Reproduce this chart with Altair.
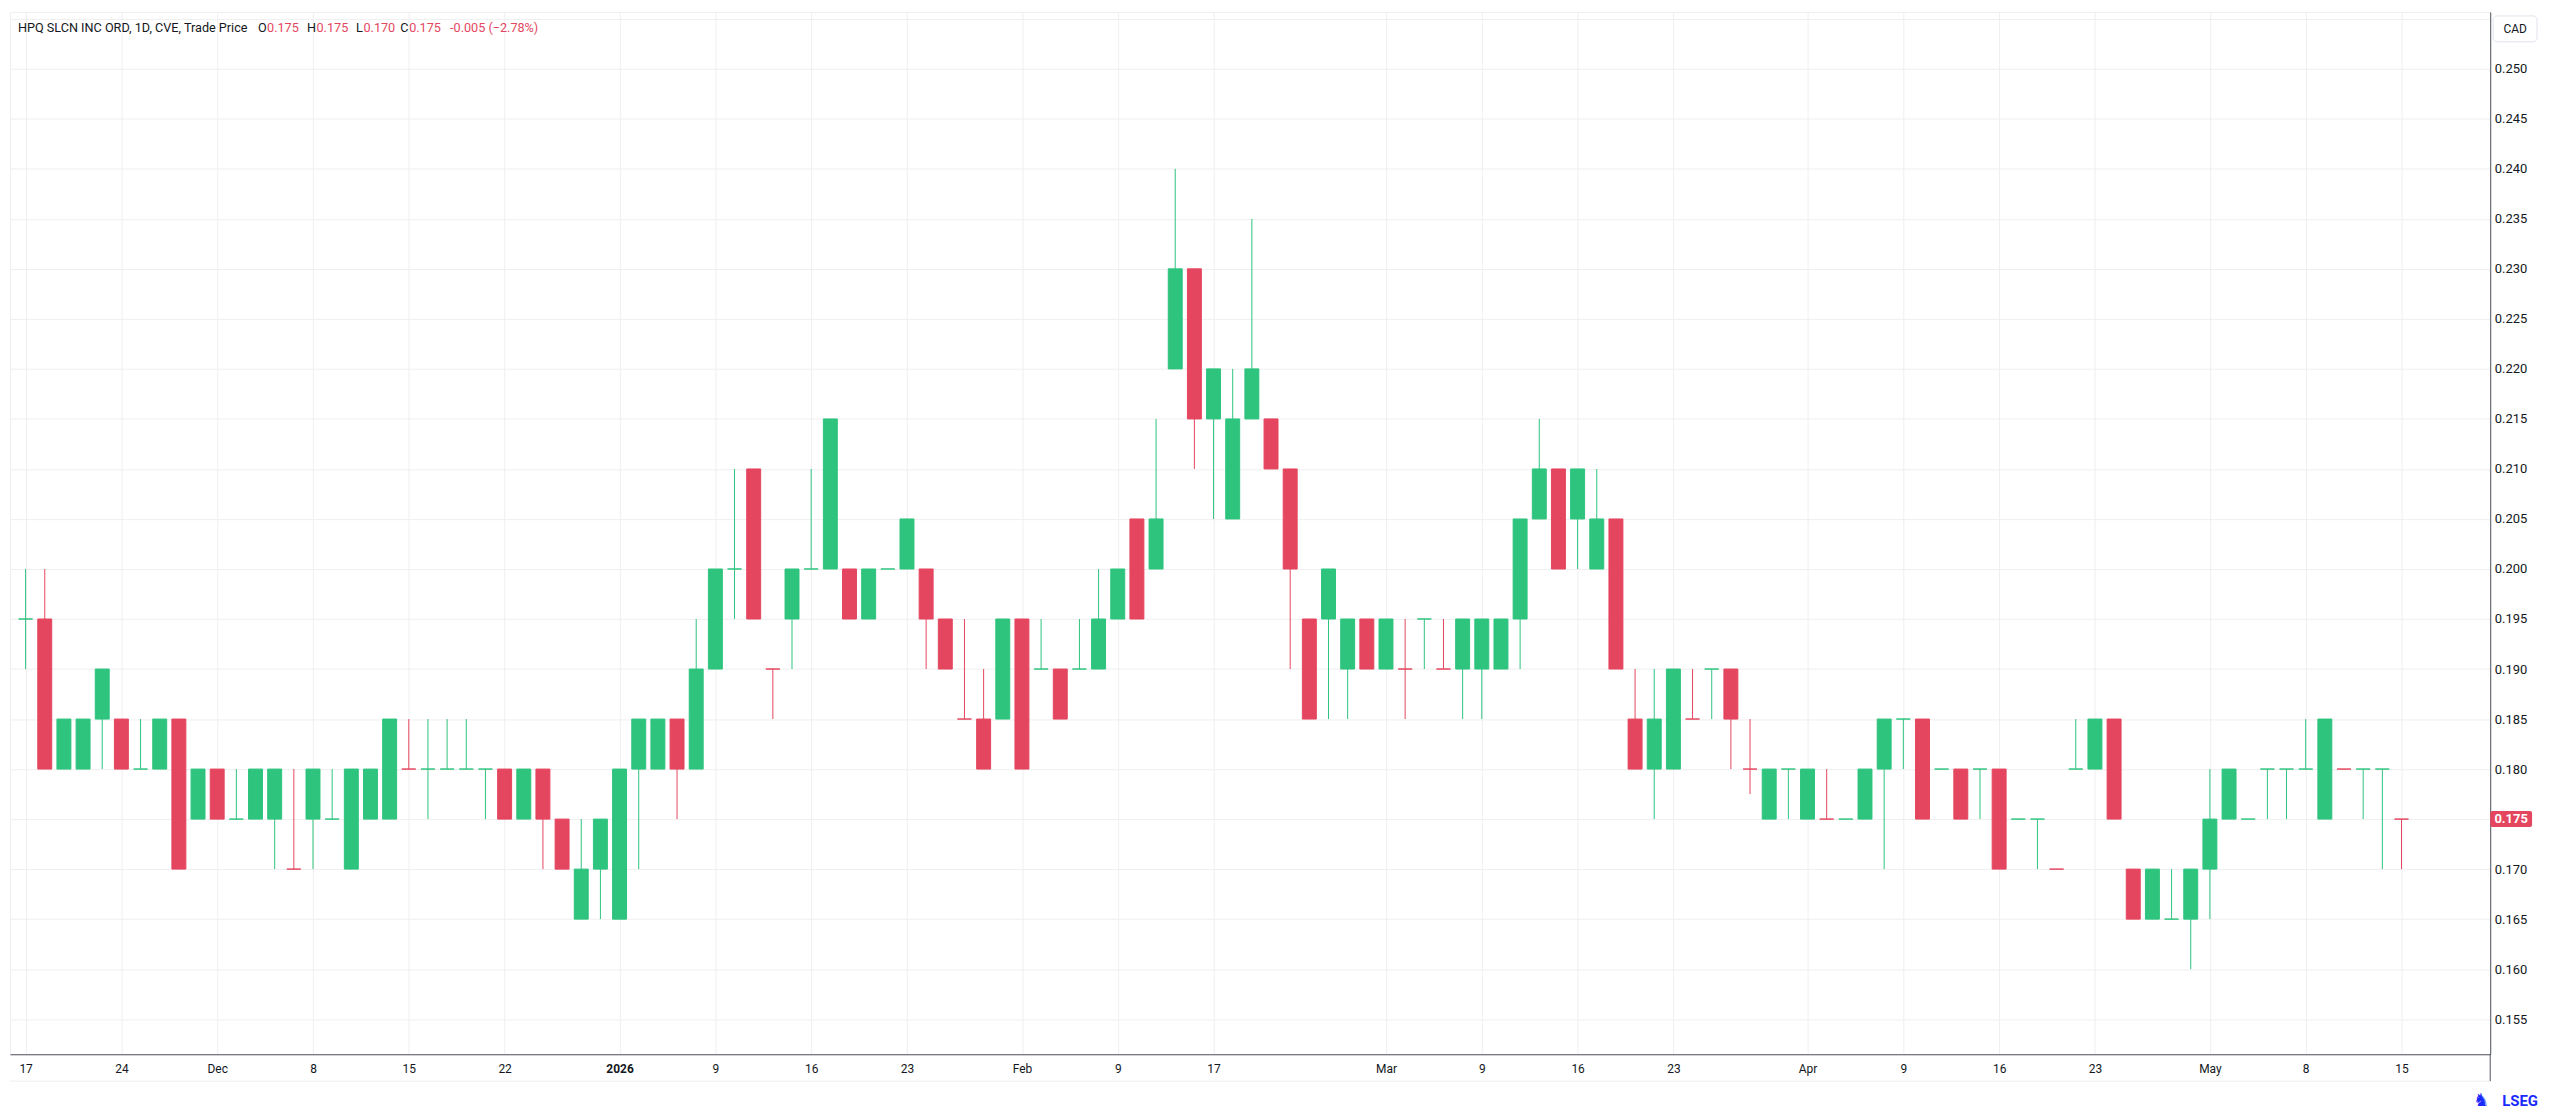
import altair as alt
import pandas as pd

# ---------------- data ----------------
opens = [
    0.195, 0.195, 0.180, 0.180, 0.185, 0.185, 0.180, 0.180, 0.185, 0.175,
    0.180, 0.175, 0.175, 0.175, 0.170, 0.175, 0.175, 0.170, 0.175, 0.175,
    0.180, 0.180, 0.180, 0.180, 0.180, 0.180, 0.175, 0.180, 0.175, 0.165,
    0.170, 0.165, 0.180, 0.180, 0.185, 0.180, 0.190, 0.200, 0.210, 0.190,
    0.195, 0.200, 0.200, 0.200, 0.195, 0.200, 0.200, 0.200, 0.195, 0.185,
    0.185, 0.185, 0.195, 0.190, 0.190, 0.190, 0.190, 0.195, 0.205, 0.200,
    0.220, 0.230, 0.215, 0.205, 0.215, 0.215, 0.210, 0.195, 0.195, 0.190,
    0.195, 0.190, 0.190, 0.195, 0.190, 0.190, 0.190, 0.190, 0.195, 0.205,
    0.210, 0.205, 0.200, 0.205, 0.185, 0.180, 0.180, 0.185, 0.190, 0.190,
    0.180, 0.175, 0.180, 0.175, 0.175, 0.175, 0.175, 0.180, 0.185, 0.185,
    0.180, 0.180, 0.180, 0.180, 0.175, 0.175, 0.170, 0.180, 0.180, 0.185,
    0.170, 0.165, 0.165, 0.165, 0.170, 0.175, 0.175, 0.180, 0.180, 0.180,
    0.175, 0.180, 0.180, 0.180, 0.175,
]
highs = [
    0.200, 0.200, 0.185, 0.185, 0.190, 0.185, 0.185, 0.185, 0.185, 0.180,
    0.180, 0.180, 0.180, 0.180, 0.180, 0.180, 0.180, 0.180, 0.180, 0.185,
    0.185, 0.185, 0.185, 0.185, 0.180, 0.180, 0.180, 0.180, 0.175, 0.175,
    0.175, 0.180, 0.185, 0.185, 0.185, 0.195, 0.200, 0.210, 0.210, 0.190,
    0.200, 0.210, 0.215, 0.200, 0.200, 0.200, 0.205, 0.200, 0.195, 0.195,
    0.190, 0.195, 0.195, 0.195, 0.190, 0.195, 0.200, 0.200, 0.205, 0.215,
    0.240, 0.230, 0.220, 0.220, 0.235, 0.215, 0.210, 0.195, 0.200, 0.195,
    0.195, 0.195, 0.195, 0.195, 0.195, 0.195, 0.195, 0.195, 0.205, 0.215,
    0.210, 0.210, 0.210, 0.205, 0.190, 0.190, 0.190, 0.190, 0.190, 0.190,
    0.185, 0.180, 0.180, 0.180, 0.180, 0.175, 0.180, 0.185, 0.185, 0.185,
    0.180, 0.180, 0.180, 0.180, 0.175, 0.175, 0.170, 0.185, 0.185, 0.185,
    0.170, 0.170, 0.170, 0.170, 0.180, 0.180, 0.175, 0.180, 0.180, 0.185,
    0.185, 0.180, 0.180, 0.180, 0.175,
]
lows = [
    0.190, 0.180, 0.180, 0.180, 0.180, 0.180, 0.180, 0.180, 0.170, 0.175,
    0.175, 0.175, 0.175, 0.170, 0.170, 0.170, 0.175, 0.170, 0.175, 0.175,
    0.180, 0.175, 0.180, 0.180, 0.175, 0.175, 0.175, 0.170, 0.170, 0.165,
    0.165, 0.165, 0.170, 0.180, 0.175, 0.180, 0.190, 0.195, 0.195, 0.185,
    0.190, 0.200, 0.200, 0.195, 0.195, 0.200, 0.200, 0.190, 0.190, 0.185,
    0.180, 0.185, 0.180, 0.190, 0.185, 0.190, 0.190, 0.195, 0.195, 0.200,
    0.220, 0.210, 0.205, 0.205, 0.215, 0.210, 0.190, 0.185, 0.185, 0.185,
    0.190, 0.190, 0.185, 0.190, 0.190, 0.185, 0.185, 0.190, 0.190, 0.205,
    0.200, 0.200, 0.200, 0.190, 0.180, 0.175, 0.180, 0.185, 0.185, 0.180,
    0.1775, 0.175, 0.175, 0.175, 0.175, 0.175, 0.175, 0.170, 0.180, 0.175,
    0.180, 0.175, 0.175, 0.170, 0.175, 0.170, 0.170, 0.180, 0.180, 0.175,
    0.165, 0.165, 0.165, 0.160, 0.165, 0.175, 0.175, 0.175, 0.175, 0.180,
    0.175, 0.180, 0.175, 0.170, 0.170,
]
closes = [
    0.195, 0.180, 0.185, 0.185, 0.190, 0.180, 0.180, 0.185, 0.170, 0.180,
    0.175, 0.175, 0.180, 0.180, 0.170, 0.180, 0.175, 0.180, 0.180, 0.185,
    0.180, 0.180, 0.180, 0.180, 0.180, 0.175, 0.180, 0.175, 0.170, 0.170,
    0.175, 0.180, 0.185, 0.185, 0.180, 0.190, 0.200, 0.200, 0.195, 0.190,
    0.200, 0.200, 0.215, 0.195, 0.200, 0.200, 0.205, 0.195, 0.190, 0.185,
    0.180, 0.195, 0.180, 0.190, 0.185, 0.190, 0.195, 0.200, 0.195, 0.205,
    0.230, 0.215, 0.220, 0.215, 0.220, 0.210, 0.200, 0.185, 0.200, 0.195,
    0.190, 0.195, 0.190, 0.195, 0.190, 0.195, 0.195, 0.195, 0.205, 0.210,
    0.200, 0.210, 0.205, 0.190, 0.180, 0.185, 0.190, 0.185, 0.190, 0.185,
    0.180, 0.180, 0.180, 0.180, 0.175, 0.175, 0.180, 0.185, 0.185, 0.175,
    0.180, 0.175, 0.180, 0.170, 0.175, 0.175, 0.170, 0.180, 0.185, 0.175,
    0.165, 0.170, 0.165, 0.170, 0.175, 0.180, 0.175, 0.180, 0.180, 0.180,
    0.185, 0.180, 0.180, 0.180, 0.175,
]
# candle colour as drawn: G = up (green), R = down (red)
candle_dirs = (
    "GRGGGRGGRG" "RGGGRGGGGG" "RGGGGRGRRG" "GGGGRGGGRR" "GGGRGGGRRR"
    "RGRGRGGGRG" "GRGGGRRRGG" "RGRGRGGGGG" "RGGRRGGRGR" "RGGGRGGGGR"
    "GRGRGGRGGR" "RGGGGGGGGG" "GRGGR"
)

tick_index = [0, 5, 10, 15, 20, 25, 31, 36, 41, 46, 52, 57, 62,
              71, 76, 81, 86, 93, 98, 103, 108, 114, 119, 124]
tick_labels = ["17", "24", "Dec", "8", "15", "22", "2026", "9", "16", "23",
               "Feb", "9", "17", "Mar", "9", "16", "23", "Apr", "9", "16",
               "23", "May", "8", "15"]
price_ticks = [0.155, 0.160, 0.165, 0.170, 0.175, 0.180, 0.185, 0.190,
               0.195, 0.200, 0.205, 0.210, 0.215, 0.220, 0.225, 0.230,
               0.235, 0.240, 0.245, 0.250, 0.255]

symbol_title = "HPQ SLCN INC ORD, 1D, CVE, Trade Price"
currency = "CAD"

# ---------------- styling ----------------
GREEN = "#2ec47e"
RED = "#e5465f"
TEXT = "#131722"
GRID = "#efefef"
AXISLINE = "#50535e"
FONT = "Roboto"
W, H = 2489, 1046
X_DOMAIN = [-0.554, 128.37]
Y_DOMAIN = [0.151494, 0.25568]

n = len(opens)
df = pd.DataFrame({
    "i": list(range(n)),
    "open": opens, "high": highs, "low": lows, "close": closes,
    "dir": ["up" if c == "G" else "down" for c in candle_dirs],
})

last_close = closes[-1]
chg = closes[-1] - closes[-2]
pct = chg / closes[-2] * 100

# x label expression built from the tick arrays
expr = "''"
for idx, lab in reversed(list(zip(tick_index, tick_labels))):
    expr = f"datum.value == {idx} ? '{lab}' : ({expr})"

x_axis = alt.Axis(values=tick_index, labelExpr=expr, grid=True, gridColor=GRID,
                  ticks=False, domain=True, domainColor=AXISLINE, domainWidth=1,
                  labelFont=FONT, labelFontSize=12, labelColor=TEXT, labelPadding=9,
                  labelFontWeight={"condition": {"test": "datum.value == 31", "value": "bold"},
                                   "value": "normal"},
                  title=None)
y_axis = alt.Axis(orient="right", values=price_ticks,
                  labelExpr=(f"abs(datum.value - 0.255) < 1e-6 || abs(datum.value - {last_close}) < 1e-6"
                             " ? '' : format(datum.value, '.3f')"),
                  grid=True, gridColor=GRID, ticks=False, domain=True,
                  domainColor=AXISLINE, domainWidth=1, labelFont=FONT,
                  labelFontSize=13, labelColor=TEXT, labelPadding=4, title=None)

xs = alt.Scale(domain=X_DOMAIN, nice=False, zero=False)
ys = alt.Scale(domain=Y_DOMAIN, nice=False, zero=False)


def X():
    return alt.X("i:Q", scale=xs, axis=x_axis)


def Y(field):
    return alt.Y(f"{field}:Q", scale=ys, axis=y_axis)


color = alt.Color("dir:N", scale=alt.Scale(domain=["up", "down"], range=[GREEN, RED]), legend=None)
stroke = alt.Stroke("dir:N", scale=alt.Scale(domain=["up", "down"], range=[GREEN, RED]), legend=None)

base = alt.Chart(df)
wicks = base.mark_rule(strokeWidth=1).encode(x=X(), y=Y("low"), y2="high:Q", color=color)
bodies = base.mark_bar(size=14, strokeWidth=1, orient="vertical").encode(
    x=X(), y=Y("open"), y2="close:Q", color=color, stroke=stroke)

last = base.transform_filter(f"datum.i == {n - 1}")
price_tag = last.mark_tick(orient="horizontal", size=42, thickness=16, color=RED,
                           opacity=1, cornerRadius=2).encode(x=alt.value(W + 21), y=Y("close"))
price_txt = last.mark_text(color="white", font=FONT, fontSize=13, fontWeight="bold",
                           align="center", baseline="middle").encode(
    x=alt.value(W + 21), y=Y("close"), text=alt.Text("close:Q", format=".3f"))

one = pd.DataFrame({"k": [0]})


def label(txt, x, y, col=TEXT, size=12.7, align="left", weight="normal"):
    return alt.Chart(one).mark_text(text=txt, color=col, font=FONT, fontSize=size,
                                    align=align, baseline="middle", fontWeight=weight).encode(
        x=alt.value(x), y=alt.value(y))


header_y = 16
header = [
    label(symbol_title, 8, header_y),
    label("O", 257.5, header_y, align="right"),
    label(f"{opens[-1]:.3f}", 258, header_y, RED),
    label("H", 307, header_y, align="right"),
    label(f"{highs[-1]:.3f}", 307.6, header_y, RED),
    label("L", 354, header_y, align="right"),
    label(f"{lows[-1]:.3f}", 354.7, header_y, RED),
    label("C", 400, header_y, align="right"),
    label(f"{closes[-1]:.3f}", 400.6, header_y, RED),
    label(f"{chg:+.3f} ({'−' if pct < 0 else '+'}{abs(pct):.2f}%)".replace("+", "" if chg >= 0 else "+"),
          441.6, header_y, RED),
]

cad_box = alt.Chart(one).mark_rect(fill="white", stroke="#e0e3eb", strokeWidth=1, cornerRadius=4).encode(
    x=alt.value(W + 3), x2=alt.value(W + 47), y=alt.value(4), y2=alt.value(30))
cad_txt = label(currency, W + 25, 17, size=12, align="center")

bottom_line = alt.Chart(one).mark_rule(color="#eeeeee", strokeWidth=1).encode(
    x=alt.value(0), x2=alt.value(W), y=alt.value(1073))
axis_ext = alt.Chart(one).mark_rule(color=AXISLINE, strokeWidth=1).encode(
    x=alt.value(W), y=alt.value(H), y2=alt.value(1073))
logo = label("LSEG", W + 12, 1093, col="#1a2bff", size=15, weight="bold")
logo_icon = alt.Chart(one).mark_text(text="♞", color="#1a2bff", font="DejaVu Sans", fontSize=18,
                                     align="center", baseline="middle").encode(
    x=alt.value(W - 9), y=alt.value(1093))

chart = alt.layer(
    wicks, bodies, price_tag, price_txt, cad_box, cad_txt, bottom_line, axis_ext,
    logo, logo_icon, *header
).properties(
    width=W, height=H,
    padding={"left": 2, "top": 2, "right": 62, "bottom": 60},
    autosize=alt.AutoSizeParams(type="none"),
    background="white",
).configure_view(stroke=GRID)

chart.save("out.html", embed_options={"renderer": "svg", "actions": False})
